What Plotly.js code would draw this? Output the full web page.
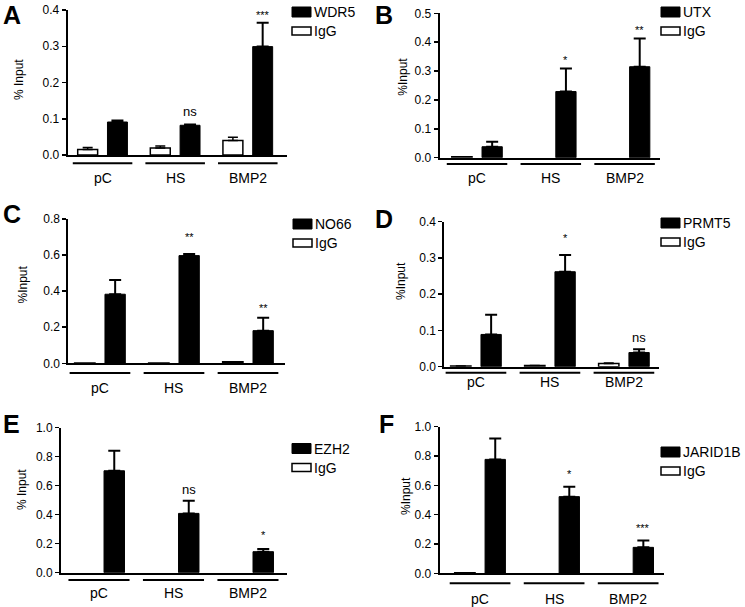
<!DOCTYPE html>
<html>
<head>
<meta charset="utf-8">
<script src="https://cdn.plot.ly/plotly-3.0.1.min.js"></script>
<style>html,body{margin:0;padding:0;background:#fff;}#chart{width:745px;height:607px;}</style>
</head>
<body>
<div id="chart"></div>
<script>
// ---- data ----
var categories = ['pC', 'HS', 'BMP2'];

var wdr5 = [0.091, 0.082, 0.299];
var wdr5Err = [0.004, 0.002, 0.066];
var iggA = [0.015, 0.019, 0.040];
var iggAErr = [0.006, 0.006, 0.009];
var sigA = ['', 'ns', '***'];

var utx = [0.038, 0.229, 0.315];
var utxErr = [0.017, 0.080, 0.098];
var iggB = [0.003, 0.0, 0.0];
var iggBErr = [0, 0, 0];
var sigB = ['', '*', '**'];

var no66 = [0.383, 0.597, 0.181];
var no66Err = [0.079, 0.009, 0.072];
var iggC = [0.002, 0.002, 0.009];
var iggCErr = [0, 0, 0];
var sigC = ['', '**', '**'];

var prmt5 = [0.089, 0.262, 0.039];
var prmt5Err = [0.054, 0.046, 0.009];
var iggD = [0.002, 0.003, 0.009];
var iggDErr = [0, 0, 0.001];
var sigD = ['', '*', 'ns'];

var ezh2 = [0.703, 0.409, 0.145];
var ezh2Err = [0.138, 0.088, 0.018];
var iggE = [0, 0, 0];
var iggEErr = [0, 0, 0];
var sigE = ['', 'ns', '*'];

var jarid1b = [0.777, 0.523, 0.177];
var jarid1bErr = [0.143, 0.068, 0.046];
var iggF = [0.003, 0, 0];
var iggFErr = [0, 0, 0];
var sigF = ['', '*', '***'];

// ---- panel layout (pixels) ----
var W = 745, H = 607;
var panels = [
  {letter:'A', name:'WDR5', vals:wdr5, err:wdr5Err, igg:iggA, iggErr:iggAErr, sig:sigA, sigY:[0,0.12,0.386], ytitle:'% Input',
   xl:67.7, xr:287, yb:155, yt:10, ymax:0.4, dtick:0.1, xr0:-0.48, xr1:2.54, ul:163.3, lab:177.5,
   leg:[292,7], lx:2, ly:0, top:true, tx:19, ty:80},
  {letter:'B', name:'UTX', vals:utx, err:utxErr, igg:iggB, iggErr:iggBErr, sig:sigB, sigY:[0,0.338,0.442], ytitle:'%Input',
   xl:439.7, xr:660, yb:157.7, yt:13.3, ymax:0.5, dtick:0.1, xr0:-0.506, xr1:2.48, ul:164, lab:178,
   leg:[661,7], lx:374, ly:0, top:true, tx:403, ty:76.7},
  {letter:'C', name:'NO66', vals:no66, err:no66Err, igg:iggC, iggErr:iggCErr, sig:sigC, sigY:[0,0.699,0.305], ytitle:'%Input',
   xl:68.3, xr:285, yb:363.3, yt:219, ymax:0.8, dtick:0.2, xr0:-0.428, xr1:2.5, ul:373, lab:388,
   leg:[293,219], lx:2, ly:214, tx:22.5, ty:285},
  {letter:'D', name:'PRMT5', vals:prmt5, err:prmt5Err, igg:iggD, iggErr:iggDErr, sig:sigD, sigY:[0,0.354,0.081], ytitle:'%Input',
   xl:444.3, xr:658.7, yb:366.7, yt:221.7, ymax:0.4, dtick:0.1, xr0:-0.428, xr1:2.47, ul:372.7, lab:382,
   leg:[661,218], lx:374, ly:219, tx:401, ty:281},
  {letter:'E', name:'EZH2', vals:ezh2, err:ezh2Err, igg:iggE, iggErr:iggEErr, sig:sigE, sigY:[0,0.575,0.26], ytitle:'% Input',
   xl:61, xr:286.7, yb:572.7, yt:427.7, ymax:1.0, dtick:0.2, xr0:-0.51, xr1:2.52, ul:580, lab:593,
   leg:[292,443.5], lx:2, ly:424, tx:22, ty:490},
  {letter:'F', name:'JARID1B', vals:jarid1b, err:jarid1bErr, igg:iggF, iggErr:iggFErr, sig:sigF, sigY:[0,0.677,0.307], ytitle:'%Input',
   xl:439.7, xr:663.7, yb:573.3, yt:426.7, ymax:1.0, dtick:0.2, xr0:-0.545, xr1:2.48, ul:583.3, lab:599,
   leg:[661,447], lx:378, ly:424, tx:406, ty:496}
];

var FONT = 'Liberation Sans, Arial, Helvetica, sans-serif';
function px(x){ return x / W; }
function py(y){ return 1 - y / H; }

var data = [];
var layout = {
  width: W, height: H,
  margin: {l:0, r:0, t:0, b:0},
  paper_bgcolor: '#fff', plot_bgcolor: 'rgba(0,0,0,0)',
  showlegend: false,
  barmode: 'group', bargap: 0.18, bargroupgap: 0.33,
  font: {family: FONT, color: '#000', size: 12},
  shapes: [], annotations: []
};

panels.forEach(function(p, k){
  var n = k + 1;
  var xa = 'x' + (n === 1 ? '' : n), ya = 'y' + (n === 1 ? '' : n);
  var xk = 'xaxis' + (n === 1 ? '' : n), yk = 'yaxis' + (n === 1 ? '' : n);
  var zeros = p.vals.map(function(){ return 0; });
  var iggLine = p.igg.map(function(v){ return v > 0 ? 1.5 : 0; });
  var iggErrArr = p.iggErr.map(function(e, i){ return (e > 0 || p.igg[i] > 0) ? e : null; });
  var hasIggErr = p.iggErr.some(function(e){ return e > 0; });

  data.push({
    type:'bar', name:'IgG', x:categories, y:p.igg, xaxis:xa, yaxis:ya,
    marker:{color:'#fff', line:{color:'#000', width:iggLine}},
    error_y:{visible:hasIggErr, type:'data', symmetric:false, array:iggErrArr, arrayminus:zeros, color:'#000', thickness:1.5, width:5},
    hoverinfo:'skip'
  });
  data.push({
    type:'bar', name:p.name, x:categories, y:p.vals, xaxis:xa, yaxis:ya,
    marker:{color:'#000', line:{color:'#000', width:1}},
    error_y:{type:'data', symmetric:false, array:p.err, arrayminus:zeros, color:'#000', thickness:2, width:6},
    hoverinfo:'skip'
  });

  layout[xk] = {
    domain:[px(p.xl), px(p.xr)], anchor:ya, type:'category',
    range:[p.xr0, p.xr1], showline:true, linewidth:2, linecolor:'#000',
    showticklabels:false, ticks:'', showgrid:false, zeroline:false, fixedrange:true
  };
  layout[yk] = {
    domain:[py(p.yb), py(p.yt)], anchor:xa, range:[0, p.ymax],
    dtick:p.dtick, tick0:0, tickformat:'.1f', ticks:'outside', ticklen:4, tickwidth:1.5, tickcolor:'#000',
    showline:true, linewidth:2, linecolor:'#000', showgrid:false, zeroline:false,
    tickfont:{family:FONT, size:12, color:'#000'}, fixedrange:true
  };

  // category underlines and labels
  categories.forEach(function(c, i){
    layout.shapes.push({type:'line', xref:xa, yref:'paper', x0:i-0.41, x1:i+0.41,
      y0:py(p.ul), y1:py(p.ul), line:{color:'#000', width:2}});
    layout.annotations.push({xref:xa, yref:'paper', x:i, y:py(p.lab), text:c, showarrow:false,
      xanchor:'center', yanchor:'middle', font:{family:FONT, size:14, color:'#000'}});
    if (p.sig[i]) {
      layout.annotations.push({xref:xa, yref:ya, x:i+0.205, y:p.sigY[i], text:p.sig[i], showarrow:false,
        xanchor:'center', yanchor:'middle', font:{family:FONT, size:p.sig[i]==='ns'?13:11, color:'#000'}});
    }
  });

  // legend (boxes + text)
  var lx = p.leg[0], ly = p.leg[1];
  layout.shapes.push({type:'rect', xref:'paper', yref:'paper', x0:px(lx), x1:px(lx+19), y0:py(ly), y1:py(ly+10),
    fillcolor:'#000', line:{color:'#000', width:1}});
  layout.shapes.push({type:'rect', xref:'paper', yref:'paper', x0:px(lx), x1:px(lx+19), y0:py(ly+20), y1:py(ly+28),
    fillcolor:'#fff', line:{color:'#000', width:1.5}});
  layout.annotations.push({xref:'paper', yref:'paper', x:px(lx+20), y:py(ly+5), text:p.name, showarrow:false,
    xanchor:'left', yanchor:'middle', font:{family:FONT, size:14, color:'#000'}});
  layout.annotations.push({xref:'paper', yref:'paper', x:px(lx+20), y:py(ly+24), text:'IgG', showarrow:false,
    xanchor:'left', yanchor:'middle', font:{family:FONT, size:14, color:'#000'}});

  // y axis title
  layout.annotations.push({xref:'paper', yref:'paper', x:px(p.tx), y:py(p.ty), text:p.ytitle, textangle:-90,
    showarrow:false, xanchor:'center', yanchor:'middle', font:{family:FONT, size:12, color:'#000'}});

  // panel letter
  layout.annotations.push({xref:'paper', yref:'paper', x:px(p.lx), y:py(p.ly), text:'<b>'+p.letter+'</b>',
    showarrow:false, xanchor:'left', yanchor:p.top ? 'top' : 'middle', borderpad:0,
    font:{family:FONT, size:25, color:'#000'}});
});

Plotly.newPlot('chart', data, layout, {staticPlot:true, displayModeBar:false});
</script>
</body>
</html>
